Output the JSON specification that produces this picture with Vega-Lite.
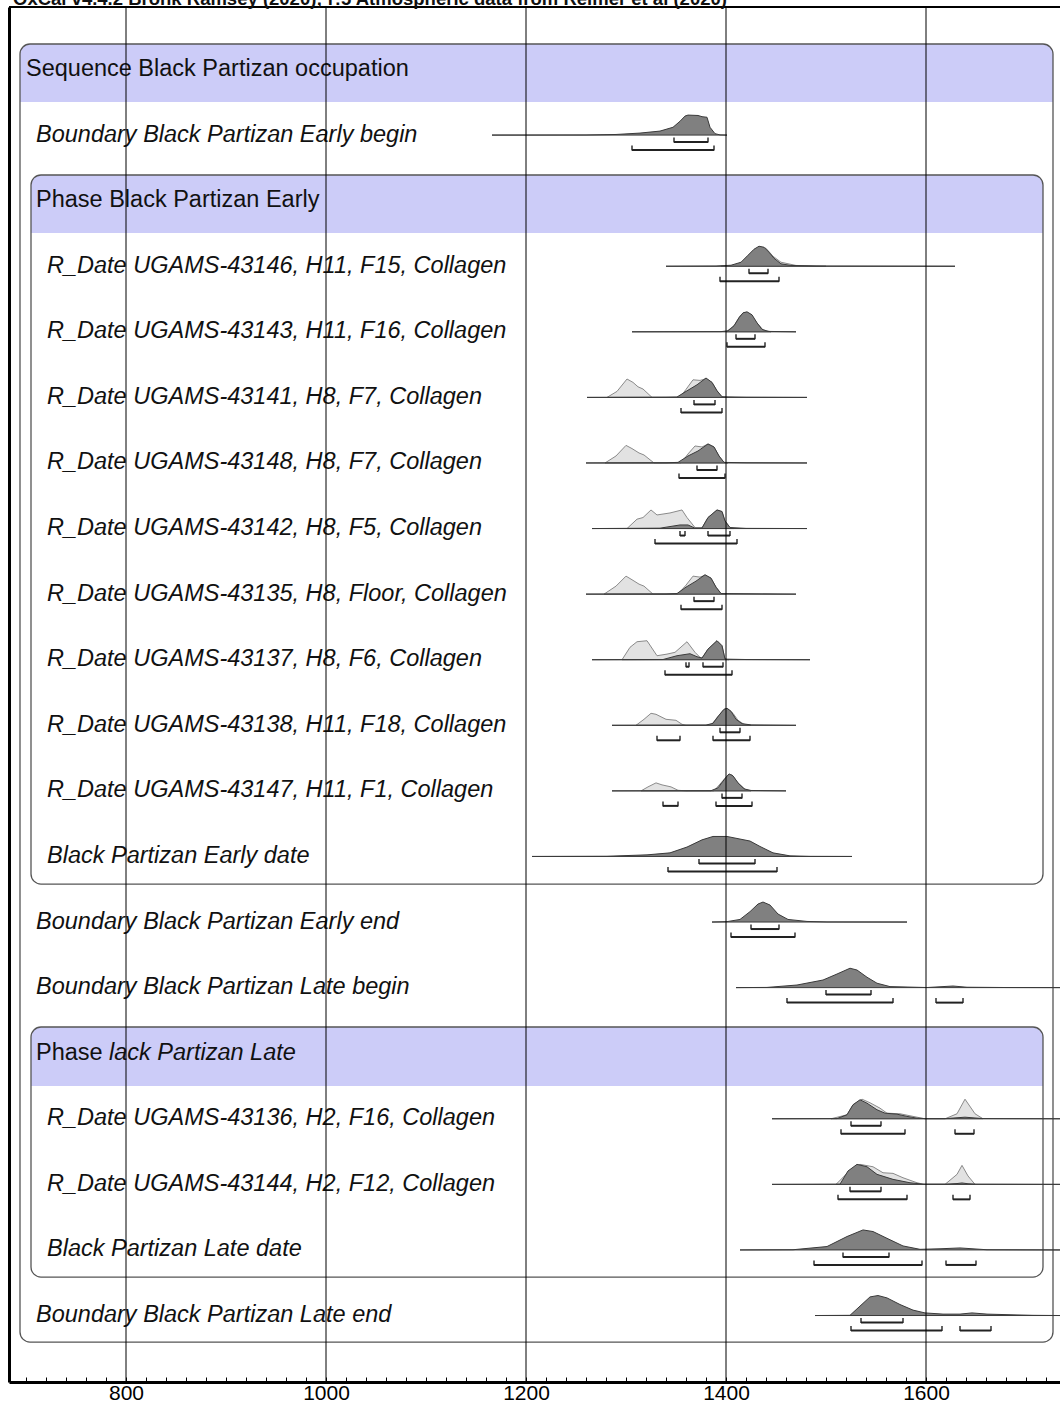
{
"$schema": "https://vega.github.io/schema/vega-lite/v6.json",
"width": 1051, "height": 1375,
"autosize": {"type": "none"},
"padding": {"left": 9, "top": 7, "right": 0, "bottom": 23},
"background": "white",
"view": {"stroke": null},
"config": {"font": "Liberation Sans"},
"datasets": {
"grid": [{"v":800},{"v":1000},{"v":1200},{"v":1400},{"v":1600}],
"labels": [
{"r":-1,"lvl":"title","label":"OxCal v4.4.2 Bronk Ramsey (2020); r:5 Atmospheric data from Reimer et al (2020)"},
{"r":0,"lvl":"seq","label":"Sequence Black Partizan occupation"},
{"r":1,"lvl":"b","label":"Boundary Black Partizan Early begin"},
{"r":2,"lvl":"ph","label":"Phase Black Partizan Early"},
{"r":3,"lvl":"d","label":"R_Date UGAMS-43146, H11, F15, Collagen"},
{"r":4,"lvl":"d","label":"R_Date UGAMS-43143, H11, F16, Collagen"},
{"r":5,"lvl":"d","label":"R_Date UGAMS-43141, H8, F7, Collagen"},
{"r":6,"lvl":"d","label":"R_Date UGAMS-43148, H8, F7, Collagen"},
{"r":7,"lvl":"d","label":"R_Date UGAMS-43142, H8, F5, Collagen"},
{"r":8,"lvl":"d","label":"R_Date UGAMS-43135, H8, Floor, Collagen"},
{"r":9,"lvl":"d","label":"R_Date UGAMS-43137, H8, F6, Collagen"},
{"r":10,"lvl":"d","label":"R_Date UGAMS-43138, H11, F18, Collagen"},
{"r":11,"lvl":"d","label":"R_Date UGAMS-43147, H11, F1, Collagen"},
{"r":12,"lvl":"d","label":"Black Partizan Early date"},
{"r":13,"lvl":"b","label":"Boundary Black Partizan Early end"},
{"r":14,"lvl":"b","label":"Boundary Black Partizan Late begin"},
{"r":15,"lvl":"ph","label":"Phase"},
{"r":15,"lvl":"phi","label":"lack Partizan Late"},
{"r":16,"lvl":"d","label":"R_Date UGAMS-43136, H2, F16, Collagen"},
{"r":17,"lvl":"d","label":"R_Date UGAMS-43144, H2, F12, Collagen"},
{"r":18,"lvl":"d","label":"Black Partizan Late date"},
{"r":19,"lvl":"b","label":"Boundary Black Partizan Late end"}
],
"ranges": [
{"r":1,"lev":68,"a":1348,"b":1382},{"r":1,"lev":95,"a":1306,"b":1388},
{"r":3,"lev":68,"a":1423,"b":1442},{"r":3,"lev":95,"a":1394,"b":1453},
{"r":4,"lev":68,"a":1410,"b":1429},{"r":4,"lev":95,"a":1401,"b":1439},
{"r":5,"lev":68,"a":1368,"b":1389},{"r":5,"lev":95,"a":1355,"b":1396},
{"r":6,"lev":68,"a":1371,"b":1391},{"r":6,"lev":95,"a":1353,"b":1399},
{"r":7,"lev":68,"a":1354,"b":1359},{"r":7,"lev":68,"a":1382,"b":1404},{"r":7,"lev":95,"a":1329,"b":1411},
{"r":8,"lev":68,"a":1368,"b":1388},{"r":8,"lev":95,"a":1355,"b":1396},
{"r":9,"lev":68,"a":1360,"b":1363},{"r":9,"lev":68,"a":1377,"b":1397},{"r":9,"lev":95,"a":1339,"b":1406},
{"r":10,"lev":68,"a":1394,"b":1414},{"r":10,"lev":95,"a":1331,"b":1354},{"r":10,"lev":95,"a":1387,"b":1424},
{"r":11,"lev":68,"a":1396,"b":1416},{"r":11,"lev":95,"a":1337,"b":1352},{"r":11,"lev":95,"a":1390,"b":1426},
{"r":12,"lev":68,"a":1373,"b":1429},{"r":12,"lev":95,"a":1342,"b":1451},
{"r":13,"lev":68,"a":1425,"b":1453},{"r":13,"lev":95,"a":1405,"b":1469},
{"r":14,"lev":68,"a":1500,"b":1545},{"r":14,"lev":95,"a":1461,"b":1567},{"r":14,"lev":95,"a":1610,"b":1637},
{"r":16,"lev":68,"a":1525,"b":1555},{"r":16,"lev":95,"a":1515,"b":1579},{"r":16,"lev":95,"a":1629,"b":1648},
{"r":17,"lev":68,"a":1524,"b":1555},{"r":17,"lev":95,"a":1512,"b":1581},{"r":17,"lev":95,"a":1627,"b":1644},
{"r":18,"lev":68,"a":1517,"b":1563},{"r":18,"lev":95,"a":1488,"b":1596},{"r":18,"lev":95,"a":1620,"b":1650},
{"r":19,"lev":68,"a":1535,"b":1577},{"r":19,"lev":95,"a":1525,"b":1616},{"r":19,"lev":95,"a":1634,"b":1665}
],
"dens": [
{"r":1,"t":"P","yr":1166,"p":0},{"r":1,"t":"P","yr":1260,"p":0.005},{"r":1,"t":"P","yr":1290,"p":0.03},{"r":1,"t":"P","yr":1314,"p":0.1},{"r":1,"t":"P","yr":1334,"p":0.2},{"r":1,"t":"P","yr":1347,"p":0.39},{"r":1,"t":"P","yr":1354,"p":0.69},{"r":1,"t":"P","yr":1359,"p":0.95},{"r":1,"t":"P","yr":1362,"p":1.0},{"r":1,"t":"P","yr":1372,"p":0.98},{"r":1,"t":"P","yr":1376,"p":0.92},{"r":1,"t":"P","yr":1381,"p":0.89},{"r":1,"t":"P","yr":1384,"p":0.39},{"r":1,"t":"P","yr":1389,"p":0.07},{"r":1,"t":"P","yr":1394,"p":0.01},{"r":1,"t":"P","yr":1401,"p":0},
{"r":3,"t":"L","yr":1395,"p":0},{"r":3,"t":"L","yr":1410,"p":0.05},{"r":3,"t":"L","yr":1420,"p":0.3},{"r":3,"t":"L","yr":1428,"p":0.7},{"r":3,"t":"L","yr":1435,"p":0.95},{"r":3,"t":"L","yr":1440,"p":0.9},{"r":3,"t":"L","yr":1447,"p":0.5},{"r":3,"t":"L","yr":1455,"p":0.2},{"r":3,"t":"L","yr":1470,"p":0.04},{"r":3,"t":"L","yr":1500,"p":0},
{"r":3,"t":"P","yr":1340,"p":0},{"r":3,"t":"P","yr":1390,"p":0.01},{"r":3,"t":"P","yr":1405,"p":0.05},{"r":3,"t":"P","yr":1415,"p":0.2},{"r":3,"t":"P","yr":1422,"p":0.55},{"r":3,"t":"P","yr":1428,"p":0.85},{"r":3,"t":"P","yr":1433,"p":1.0},{"r":3,"t":"P","yr":1438,"p":0.95},{"r":3,"t":"P","yr":1443,"p":0.7},{"r":3,"t":"P","yr":1448,"p":0.4},{"r":3,"t":"P","yr":1455,"p":0.12},{"r":3,"t":"P","yr":1465,"p":0.04},{"r":3,"t":"P","yr":1490,"p":0.01},{"r":3,"t":"P","yr":1629,"p":0},
{"r":4,"t":"L","yr":1400,"p":0},{"r":4,"t":"L","yr":1408,"p":0.3},{"r":4,"t":"L","yr":1414,"p":0.8},{"r":4,"t":"L","yr":1419,"p":0.97},{"r":4,"t":"L","yr":1424,"p":0.9},{"r":4,"t":"L","yr":1430,"p":0.5},{"r":4,"t":"L","yr":1437,"p":0.1},{"r":4,"t":"L","yr":1445,"p":0},
{"r":4,"t":"P","yr":1306,"p":0},{"r":4,"t":"P","yr":1395,"p":0.01},{"r":4,"t":"P","yr":1402,"p":0.05},{"r":4,"t":"P","yr":1408,"p":0.3},{"r":4,"t":"P","yr":1413,"p":0.7},{"r":4,"t":"P","yr":1417,"p":0.95},{"r":4,"t":"P","yr":1421,"p":1.0},{"r":4,"t":"P","yr":1426,"p":0.85},{"r":4,"t":"P","yr":1431,"p":0.45},{"r":4,"t":"P","yr":1436,"p":0.12},{"r":4,"t":"P","yr":1442,"p":0.02},{"r":4,"t":"P","yr":1470,"p":0},
{"r":5,"t":"L","yr":1281,"p":0},{"r":5,"t":"L","yr":1291,"p":0.3},{"r":5,"t":"L","yr":1301,"p":0.92},{"r":5,"t":"L","yr":1307,"p":0.75},{"r":5,"t":"L","yr":1312,"p":0.53},{"r":5,"t":"L","yr":1317,"p":0.42},{"r":5,"t":"L","yr":1326,"p":0},{"r":5,"t":"L","yr":1354,"p":0},{"r":5,"t":"L","yr":1360,"p":0.4},{"r":5,"t":"L","yr":1367,"p":0.88},{"r":5,"t":"L","yr":1374,"p":0.85},{"r":5,"t":"L","yr":1380,"p":0.93},{"r":5,"t":"L","yr":1386,"p":0.75},{"r":5,"t":"L","yr":1391,"p":0.33},{"r":5,"t":"L","yr":1396,"p":0.03},{"r":5,"t":"L","yr":1400,"p":0},
{"r":5,"t":"P","yr":1261,"p":0},{"r":5,"t":"P","yr":1340,"p":0.01},{"r":5,"t":"P","yr":1351,"p":0.02},{"r":5,"t":"P","yr":1361,"p":0.33},{"r":5,"t":"P","yr":1371,"p":0.63},{"r":5,"t":"P","yr":1380,"p":0.97},{"r":5,"t":"P","yr":1386,"p":0.75},{"r":5,"t":"P","yr":1391,"p":0.33},{"r":5,"t":"P","yr":1396,"p":0.03},{"r":5,"t":"P","yr":1420,"p":0.01},{"r":5,"t":"P","yr":1481,"p":0},
{"r":6,"t":"L","yr":1279,"p":0},{"r":6,"t":"L","yr":1290,"p":0.35},{"r":6,"t":"L","yr":1300,"p":0.88},{"r":6,"t":"L","yr":1306,"p":0.72},{"r":6,"t":"L","yr":1313,"p":0.5},{"r":6,"t":"L","yr":1318,"p":0.4},{"r":6,"t":"L","yr":1328,"p":0},{"r":6,"t":"L","yr":1355,"p":0},{"r":6,"t":"L","yr":1362,"p":0.45},{"r":6,"t":"L","yr":1369,"p":0.85},{"r":6,"t":"L","yr":1376,"p":0.8},{"r":6,"t":"L","yr":1382,"p":0.95},{"r":6,"t":"L","yr":1388,"p":0.8},{"r":6,"t":"L","yr":1393,"p":0.35},{"r":6,"t":"L","yr":1398,"p":0.03},{"r":6,"t":"L","yr":1402,"p":0},
{"r":6,"t":"P","yr":1260,"p":0},{"r":6,"t":"P","yr":1340,"p":0.01},{"r":6,"t":"P","yr":1352,"p":0.03},{"r":6,"t":"P","yr":1362,"p":0.35},{"r":6,"t":"P","yr":1372,"p":0.6},{"r":6,"t":"P","yr":1382,"p":0.95},{"r":6,"t":"P","yr":1388,"p":0.8},{"r":6,"t":"P","yr":1393,"p":0.35},{"r":6,"t":"P","yr":1398,"p":0.03},{"r":6,"t":"P","yr":1420,"p":0.01},{"r":6,"t":"P","yr":1481,"p":0},
{"r":7,"t":"L","yr":1301,"p":0},{"r":7,"t":"L","yr":1311,"p":0.47},{"r":7,"t":"L","yr":1317,"p":0.55},{"r":7,"t":"L","yr":1325,"p":0.93},{"r":7,"t":"L","yr":1331,"p":0.68},{"r":7,"t":"L","yr":1344,"p":0.78},{"r":7,"t":"L","yr":1356,"p":0.93},{"r":7,"t":"L","yr":1361,"p":0.55},{"r":7,"t":"L","yr":1369,"p":0.05},{"r":7,"t":"L","yr":1376,"p":0.03},{"r":7,"t":"L","yr":1382,"p":0.55},{"r":7,"t":"L","yr":1391,"p":0.93},{"r":7,"t":"L","yr":1396,"p":0.85},{"r":7,"t":"L","yr":1399,"p":0.38},{"r":7,"t":"L","yr":1404,"p":0.05},{"r":7,"t":"L","yr":1408,"p":0},
{"r":7,"t":"P","yr":1266,"p":0},{"r":7,"t":"P","yr":1334,"p":0.02},{"r":7,"t":"P","yr":1354,"p":0.18},{"r":7,"t":"P","yr":1362,"p":0.18},{"r":7,"t":"P","yr":1369,"p":0.02},{"r":7,"t":"P","yr":1376,"p":0.03},{"r":7,"t":"P","yr":1382,"p":0.55},{"r":7,"t":"P","yr":1391,"p":0.93},{"r":7,"t":"P","yr":1396,"p":0.85},{"r":7,"t":"P","yr":1399,"p":0.38},{"r":7,"t":"P","yr":1404,"p":0.05},{"r":7,"t":"P","yr":1420,"p":0.01},{"r":7,"t":"P","yr":1481,"p":0},
{"r":8,"t":"L","yr":1278,"p":0},{"r":8,"t":"L","yr":1290,"p":0.4},{"r":8,"t":"L","yr":1300,"p":0.9},{"r":8,"t":"L","yr":1306,"p":0.72},{"r":8,"t":"L","yr":1313,"p":0.5},{"r":8,"t":"L","yr":1318,"p":0.4},{"r":8,"t":"L","yr":1327,"p":0},{"r":8,"t":"L","yr":1352,"p":0},{"r":8,"t":"L","yr":1360,"p":0.45},{"r":8,"t":"L","yr":1367,"p":0.9},{"r":8,"t":"L","yr":1374,"p":0.85},{"r":8,"t":"L","yr":1379,"p":0.95},{"r":8,"t":"L","yr":1385,"p":0.8},{"r":8,"t":"L","yr":1390,"p":0.35},{"r":8,"t":"L","yr":1395,"p":0.03},{"r":8,"t":"L","yr":1400,"p":0},
{"r":8,"t":"P","yr":1260,"p":0},{"r":8,"t":"P","yr":1340,"p":0.01},{"r":8,"t":"P","yr":1351,"p":0.03},{"r":8,"t":"P","yr":1360,"p":0.35},{"r":8,"t":"P","yr":1370,"p":0.65},{"r":8,"t":"P","yr":1379,"p":0.97},{"r":8,"t":"P","yr":1385,"p":0.8},{"r":8,"t":"P","yr":1390,"p":0.35},{"r":8,"t":"P","yr":1395,"p":0.03},{"r":8,"t":"P","yr":1470,"p":0},
{"r":9,"t":"L","yr":1296,"p":0},{"r":9,"t":"L","yr":1304,"p":0.62},{"r":9,"t":"L","yr":1311,"p":0.9},{"r":9,"t":"L","yr":1321,"p":0.95},{"r":9,"t":"L","yr":1331,"p":0.2},{"r":9,"t":"L","yr":1341,"p":0.28},{"r":9,"t":"L","yr":1349,"p":0.37},{"r":9,"t":"L","yr":1361,"p":0.9},{"r":9,"t":"L","yr":1369,"p":0.37},{"r":9,"t":"L","yr":1374,"p":0.12},{"r":9,"t":"L","yr":1376,"p":0.08},{"r":9,"t":"L","yr":1382,"p":0.53},{"r":9,"t":"L","yr":1391,"p":0.95},{"r":9,"t":"L","yr":1396,"p":0.7},{"r":9,"t":"L","yr":1399,"p":0.03},{"r":9,"t":"L","yr":1403,"p":0},
{"r":9,"t":"P","yr":1266,"p":0},{"r":9,"t":"P","yr":1337,"p":0.01},{"r":9,"t":"P","yr":1351,"p":0.2},{"r":9,"t":"P","yr":1364,"p":0.3},{"r":9,"t":"P","yr":1371,"p":0.15},{"r":9,"t":"P","yr":1376,"p":0.08},{"r":9,"t":"P","yr":1382,"p":0.53},{"r":9,"t":"P","yr":1391,"p":0.95},{"r":9,"t":"P","yr":1396,"p":0.7},{"r":9,"t":"P","yr":1399,"p":0.03},{"r":9,"t":"P","yr":1420,"p":0.01},{"r":9,"t":"P","yr":1484,"p":0},
{"r":10,"t":"L","yr":1310,"p":0},{"r":10,"t":"L","yr":1318,"p":0.3},{"r":10,"t":"L","yr":1325,"p":0.6},{"r":10,"t":"L","yr":1330,"p":0.55},{"r":10,"t":"L","yr":1340,"p":0.3},{"r":10,"t":"L","yr":1350,"p":0.25},{"r":10,"t":"L","yr":1356,"p":0.05},{"r":10,"t":"L","yr":1360,"p":0},{"r":10,"t":"L","yr":1385,"p":0},{"r":10,"t":"L","yr":1392,"p":0.45},{"r":10,"t":"L","yr":1398,"p":0.8},{"r":10,"t":"L","yr":1402,"p":0.82},{"r":10,"t":"L","yr":1407,"p":0.6},{"r":10,"t":"L","yr":1412,"p":0.25},{"r":10,"t":"L","yr":1418,"p":0.05},{"r":10,"t":"L","yr":1425,"p":0},
{"r":10,"t":"P","yr":1286,"p":0},{"r":10,"t":"P","yr":1380,"p":0.01},{"r":10,"t":"P","yr":1387,"p":0.1},{"r":10,"t":"P","yr":1393,"p":0.5},{"r":10,"t":"P","yr":1398,"p":0.8},{"r":10,"t":"P","yr":1401,"p":0.85},{"r":10,"t":"P","yr":1405,"p":0.7},{"r":10,"t":"P","yr":1410,"p":0.3},{"r":10,"t":"P","yr":1416,"p":0.08},{"r":10,"t":"P","yr":1425,"p":0.02},{"r":10,"t":"P","yr":1470,"p":0},
{"r":11,"t":"L","yr":1315,"p":0},{"r":11,"t":"L","yr":1322,"p":0.2},{"r":11,"t":"L","yr":1330,"p":0.4},{"r":11,"t":"L","yr":1336,"p":0.3},{"r":11,"t":"L","yr":1345,"p":0.2},{"r":11,"t":"L","yr":1352,"p":0.03},{"r":11,"t":"L","yr":1360,"p":0},{"r":11,"t":"L","yr":1388,"p":0},{"r":11,"t":"L","yr":1395,"p":0.4},{"r":11,"t":"L","yr":1402,"p":0.8},{"r":11,"t":"L","yr":1406,"p":0.8},{"r":11,"t":"L","yr":1412,"p":0.4},{"r":11,"t":"L","yr":1420,"p":0.05},{"r":11,"t":"L","yr":1425,"p":0},
{"r":11,"t":"P","yr":1286,"p":0},{"r":11,"t":"P","yr":1385,"p":0.01},{"r":11,"t":"P","yr":1392,"p":0.15},{"r":11,"t":"P","yr":1398,"p":0.55},{"r":11,"t":"P","yr":1403,"p":0.85},{"r":11,"t":"P","yr":1407,"p":0.75},{"r":11,"t":"P","yr":1412,"p":0.4},{"r":11,"t":"P","yr":1418,"p":0.1},{"r":11,"t":"P","yr":1425,"p":0.02},{"r":11,"t":"P","yr":1460,"p":0},
{"r":12,"t":"P","yr":1206,"p":0},{"r":12,"t":"P","yr":1281,"p":0.01},{"r":12,"t":"P","yr":1321,"p":0.08},{"r":12,"t":"P","yr":1344,"p":0.18},{"r":12,"t":"P","yr":1361,"p":0.47},{"r":12,"t":"P","yr":1376,"p":0.83},{"r":12,"t":"P","yr":1387,"p":1.0},{"r":12,"t":"P","yr":1401,"p":1.0},{"r":12,"t":"P","yr":1424,"p":0.77},{"r":12,"t":"P","yr":1434,"p":0.5},{"r":12,"t":"P","yr":1447,"p":0.18},{"r":12,"t":"P","yr":1464,"p":0.03},{"r":12,"t":"P","yr":1484,"p":0.005},{"r":12,"t":"P","yr":1526,"p":0},
{"r":13,"t":"P","yr":1386,"p":0},{"r":13,"t":"P","yr":1401,"p":0.02},{"r":13,"t":"P","yr":1414,"p":0.13},{"r":13,"t":"P","yr":1424,"p":0.52},{"r":13,"t":"P","yr":1432,"p":0.9},{"r":13,"t":"P","yr":1437,"p":1.0},{"r":13,"t":"P","yr":1444,"p":0.85},{"r":13,"t":"P","yr":1452,"p":0.4},{"r":13,"t":"P","yr":1462,"p":0.13},{"r":13,"t":"P","yr":1481,"p":0.03},{"r":13,"t":"P","yr":1501,"p":0.005},{"r":13,"t":"P","yr":1581,"p":0},
{"r":14,"t":"P","yr":1410,"p":0},{"r":14,"t":"P","yr":1441,"p":0.01},{"r":14,"t":"P","yr":1471,"p":0.13},{"r":14,"t":"P","yr":1497,"p":0.38},{"r":14,"t":"P","yr":1511,"p":0.68},{"r":14,"t":"P","yr":1524,"p":0.97},{"r":14,"t":"P","yr":1531,"p":0.88},{"r":14,"t":"P","yr":1541,"p":0.52},{"r":14,"t":"P","yr":1551,"p":0.22},{"r":14,"t":"P","yr":1564,"p":0.05},{"r":14,"t":"P","yr":1601,"p":0.005},{"r":14,"t":"P","yr":1627,"p":0.08},{"r":14,"t":"P","yr":1641,"p":0.02},{"r":14,"t":"P","yr":1680,"p":0.005},{"r":14,"t":"P","yr":1734,"p":0},
{"r":16,"t":"L","yr":1505,"p":0},{"r":16,"t":"L","yr":1521,"p":0.2},{"r":16,"t":"L","yr":1527,"p":0.7},{"r":16,"t":"L","yr":1536,"p":0.98},{"r":16,"t":"L","yr":1544,"p":0.8},{"r":16,"t":"L","yr":1554,"p":0.53},{"r":16,"t":"L","yr":1561,"p":0.28},{"r":16,"t":"L","yr":1574,"p":0.25},{"r":16,"t":"L","yr":1587,"p":0.12},{"r":16,"t":"L","yr":1599,"p":0},{"r":16,"t":"L","yr":1619,"p":0},{"r":16,"t":"L","yr":1631,"p":0.25},{"r":16,"t":"L","yr":1639,"p":0.98},{"r":16,"t":"L","yr":1649,"p":0.25},{"r":16,"t":"L","yr":1657,"p":0},
{"r":16,"t":"P","yr":1446,"p":0},{"r":16,"t":"P","yr":1511,"p":0.01},{"r":16,"t":"P","yr":1521,"p":0.2},{"r":16,"t":"P","yr":1527,"p":0.7},{"r":16,"t":"P","yr":1534,"p":0.95},{"r":16,"t":"P","yr":1541,"p":0.78},{"r":16,"t":"P","yr":1551,"p":0.45},{"r":16,"t":"P","yr":1559,"p":0.28},{"r":16,"t":"P","yr":1571,"p":0.23},{"r":16,"t":"P","yr":1581,"p":0.12},{"r":16,"t":"P","yr":1591,"p":0.03},{"r":16,"t":"P","yr":1599,"p":0.01},{"r":16,"t":"P","yr":1620,"p":0.01},{"r":16,"t":"P","yr":1631,"p":0.05},{"r":16,"t":"P","yr":1639,"p":0.08},{"r":16,"t":"P","yr":1649,"p":0.04},{"r":16,"t":"P","yr":1657,"p":0.01},{"r":16,"t":"P","yr":1734,"p":0},
{"r":17,"t":"L","yr":1510,"p":0},{"r":17,"t":"L","yr":1522,"p":0.6},{"r":17,"t":"L","yr":1534,"p":1.0},{"r":17,"t":"L","yr":1547,"p":0.88},{"r":17,"t":"L","yr":1557,"p":0.58},{"r":17,"t":"L","yr":1567,"p":0.55},{"r":17,"t":"L","yr":1577,"p":0.33},{"r":17,"t":"L","yr":1591,"p":0.08},{"r":17,"t":"L","yr":1598,"p":0},{"r":17,"t":"L","yr":1619,"p":0},{"r":17,"t":"L","yr":1631,"p":0.5},{"r":17,"t":"L","yr":1636,"p":0.95},{"r":17,"t":"L","yr":1642,"p":0.42},{"r":17,"t":"L","yr":1649,"p":0},
{"r":17,"t":"P","yr":1446,"p":0},{"r":17,"t":"P","yr":1514,"p":0.01},{"r":17,"t":"P","yr":1522,"p":0.67},{"r":17,"t":"P","yr":1531,"p":1.0},{"r":17,"t":"P","yr":1541,"p":0.88},{"r":17,"t":"P","yr":1551,"p":0.5},{"r":17,"t":"P","yr":1567,"p":0.25},{"r":17,"t":"P","yr":1584,"p":0.08},{"r":17,"t":"P","yr":1597,"p":0.01},{"r":17,"t":"P","yr":1620,"p":0.01},{"r":17,"t":"P","yr":1631,"p":0.04},{"r":17,"t":"P","yr":1636,"p":0.07},{"r":17,"t":"P","yr":1642,"p":0.03},{"r":17,"t":"P","yr":1650,"p":0.01},{"r":17,"t":"P","yr":1734,"p":0},
{"r":18,"t":"P","yr":1414,"p":0},{"r":18,"t":"P","yr":1467,"p":0.01},{"r":18,"t":"P","yr":1501,"p":0.17},{"r":18,"t":"P","yr":1521,"p":0.67},{"r":18,"t":"P","yr":1537,"p":1.0},{"r":18,"t":"P","yr":1547,"p":0.92},{"r":18,"t":"P","yr":1561,"p":0.58},{"r":18,"t":"P","yr":1577,"p":0.2},{"r":18,"t":"P","yr":1594,"p":0.03},{"r":18,"t":"P","yr":1615,"p":0.06},{"r":18,"t":"P","yr":1634,"p":0.1},{"r":18,"t":"P","yr":1661,"p":0.01},{"r":18,"t":"P","yr":1734,"p":0},
{"r":19,"t":"P","yr":1489,"p":0},{"r":19,"t":"P","yr":1524,"p":0.01},{"r":19,"t":"P","yr":1534,"p":0.47},{"r":19,"t":"P","yr":1544,"p":0.93},{"r":19,"t":"P","yr":1552,"p":1.0},{"r":19,"t":"P","yr":1561,"p":0.88},{"r":19,"t":"P","yr":1574,"p":0.55},{"r":19,"t":"P","yr":1587,"p":0.27},{"r":19,"t":"P","yr":1599,"p":0.13},{"r":19,"t":"P","yr":1617,"p":0.07},{"r":19,"t":"P","yr":1634,"p":0.07},{"r":19,"t":"P","yr":1646,"p":0.13},{"r":19,"t":"P","yr":1661,"p":0.07},{"r":19,"t":"P","yr":1691,"p":0.03},{"r":19,"t":"P","yr":1707,"p":0.01},{"r":19,"t":"P","yr":1734,"p":0}
]
},
"resolve": {"scale": {"y": "independent"}, "axis": {"x": "independent"}},
"layer": [
{
"layer": [
{"data": {"values": [{}]}, "mark": {"type": "rect", "fill": "#ccccf8", "cornerRadiusTopLeft": 10, "cornerRadiusTopRight": 10},
 "encoding": {
  "x": {"datum": 694, "type": "quantitative", "scale": {"domain": [683, 1734], "nice": false, "zero": false}, "axis": null},
  "x2": {"datum": 1727},
  "y": {"datum": -0.381, "type": "quantitative", "scale": {"domain": [-0.9454, 20.021], "reverse": true, "nice": false, "zero": false},
   "axis": {"orient": "left", "domain": true, "domainColor": "black", "domainWidth": 3, "ticks": false, "labels": false, "grid": false, "title": null}},
  "y2": {"datum": 0.503}}},
{"data": {"values": [{}]}, "mark": {"type": "rect", "fill": "#ccccf8", "cornerRadiusTopLeft": 10, "cornerRadiusTopRight": 10},
 "encoding": {"x": {"datum": 705, "type": "quantitative", "scale": {"domain": [683, 1734], "nice": false, "zero": false}, "axis": null}, "x2": {"datum": 1717},
  "y": {"datum": 1.616, "type": "quantitative", "scale": {"domain": [-0.9454, 20.021], "reverse": true, "nice": false, "zero": false}}, "y2": {"datum": 2.501}}},
{"data": {"values": [{}]}, "mark": {"type": "rect", "fill": "#ccccf8", "cornerRadiusTopLeft": 10, "cornerRadiusTopRight": 10},
 "encoding": {"x": {"datum": 705, "type": "quantitative", "scale": {"domain": [683, 1734], "nice": false, "zero": false}, "axis": null}, "x2": {"datum": 1717},
  "y": {"datum": 14.608, "type": "quantitative", "scale": {"domain": [-0.9454, 20.021], "reverse": true, "nice": false, "zero": false}}, "y2": {"datum": 15.508}}},
{"data": {"values": [{}]}, "mark": {"type": "rect", "filled": false, "stroke": "#555", "strokeWidth": 1.3, "cornerRadius": 10},
 "encoding": {"x": {"datum": 694, "type": "quantitative", "scale": {"domain": [683, 1734], "nice": false, "zero": false}, "axis": null}, "x2": {"datum": 1727},
  "y": {"datum": -0.381, "type": "quantitative", "scale": {"domain": [-0.9454, 20.021], "reverse": true, "nice": false, "zero": false}}, "y2": {"datum": 19.412}}},
{"data": {"values": [{}]}, "mark": {"type": "rect", "filled": false, "stroke": "#555", "strokeWidth": 1.3, "cornerRadius": 10},
 "encoding": {"x": {"datum": 705, "type": "quantitative", "scale": {"domain": [683, 1734], "nice": false, "zero": false}, "axis": null}, "x2": {"datum": 1717},
  "y": {"datum": 1.616, "type": "quantitative", "scale": {"domain": [-0.9454, 20.021], "reverse": true, "nice": false, "zero": false}}, "y2": {"datum": 12.428}}},
{"data": {"values": [{}]}, "mark": {"type": "rect", "filled": false, "stroke": "#555", "strokeWidth": 1.3, "cornerRadius": 10},
 "encoding": {"x": {"datum": 705, "type": "quantitative", "scale": {"domain": [683, 1734], "nice": false, "zero": false}, "axis": null}, "x2": {"datum": 1717},
  "y": {"datum": 14.608, "type": "quantitative", "scale": {"domain": [-0.9454, 20.021], "reverse": true, "nice": false, "zero": false}}, "y2": {"datum": 18.421}}},
{"data": {"values": [{}]}, "mark": {"type": "rule", "stroke": "black", "strokeWidth": 2},
 "encoding": {"x": {"datum": 683, "type": "quantitative", "scale": {"domain": [683, 1734], "nice": false, "zero": false}, "axis": null}, "x2": {"datum": 1734},
  "y": {"datum": -0.9454, "type": "quantitative", "scale": {"domain": [-0.9454, 20.021], "reverse": true, "nice": false, "zero": false}}}},
{"data": {"name": "labels"}, "transform": [{"filter": "datum.lvl == 'title'"}], "mark": {"type": "text", "align": "left", "baseline": "alphabetic", "fontSize": 18.5, "fontWeight": "bold", "font": "Liberation Sans", "color": "#111"},
 "encoding": {"x": {"datum": 687, "type": "quantitative", "scale": {"domain": [683, 1734], "nice": false, "zero": false}, "axis": null},
  "y": {"datum": -0.975, "type": "quantitative", "scale": {"domain": [-0.9454, 20.021], "reverse": true, "nice": false, "zero": false}}, "text": {"field": "label"}}},
{"data": {"name": "labels"}, "transform": [{"filter": "datum.lvl == 'seq'"}], "mark": {"type": "text", "align": "left", "baseline": "middle", "fontSize": 23.5, "font": "Liberation Sans", "color": "#111"},
 "encoding": {"x": {"datum": 700, "type": "quantitative", "scale": {"domain": [683, 1734], "nice": false, "zero": false}, "axis": null},
  "y": {"field": "r", "type": "quantitative", "scale": {"domain": [-0.9454, 20.021], "reverse": true, "nice": false, "zero": false}}, "text": {"field": "label"}}},
{"data": {"name": "labels"}, "transform": [{"filter": "datum.lvl == 'ph'"}], "mark": {"type": "text", "align": "left", "baseline": "middle", "fontSize": 23.5, "font": "Liberation Sans", "color": "#111"},
 "encoding": {"x": {"datum": 710, "type": "quantitative", "scale": {"domain": [683, 1734], "nice": false, "zero": false}, "axis": null},
  "y": {"field": "r", "type": "quantitative", "scale": {"domain": [-0.9454, 20.021], "reverse": true, "nice": false, "zero": false}}, "text": {"field": "label"}}},
{"data": {"name": "labels"}, "transform": [{"filter": "datum.lvl == 'phi'"}], "mark": {"type": "text", "align": "left", "baseline": "middle", "fontSize": 23.5, "font": "Liberation Sans", "fontStyle": "italic", "color": "#111"},
 "encoding": {"x": {"datum": 783, "type": "quantitative", "scale": {"domain": [683, 1734], "nice": false, "zero": false}, "axis": null},
  "y": {"field": "r", "type": "quantitative", "scale": {"domain": [-0.9454, 20.021], "reverse": true, "nice": false, "zero": false}}, "text": {"field": "label"}}},
{"data": {"name": "labels"}, "transform": [{"filter": "datum.lvl == 'b'"}], "mark": {"type": "text", "align": "left", "baseline": "middle", "fontSize": 23.5, "font": "Liberation Sans", "fontStyle": "italic", "color": "#111"},
 "encoding": {"x": {"datum": 710, "type": "quantitative", "scale": {"domain": [683, 1734], "nice": false, "zero": false}, "axis": null},
  "y": {"field": "r", "type": "quantitative", "scale": {"domain": [-0.9454, 20.021], "reverse": true, "nice": false, "zero": false}}, "text": {"field": "label"}}},
{"data": {"name": "labels"}, "transform": [{"filter": "datum.lvl == 'd'"}], "mark": {"type": "text", "align": "left", "baseline": "middle", "fontSize": 23.5, "font": "Liberation Sans", "fontStyle": "italic", "color": "#111"},
 "encoding": {"x": {"datum": 721, "type": "quantitative", "scale": {"domain": [683, 1734], "nice": false, "zero": false}, "axis": null},
  "y": {"field": "r", "type": "quantitative", "scale": {"domain": [-0.9454, 20.021], "reverse": true, "nice": false, "zero": false}}, "text": {"field": "label"}}}
]
},
{"data": {"name": "dens"}, "transform": [{"filter": "datum.r == 1"}], "mark": {"type": "area", "strokeWidth": 1},
 "encoding": {"x": {"field": "yr", "type": "quantitative", "scale": {"domain": [683, 1734], "nice": false, "zero": false}, "axis": null},
  "y": {"field": "p", "type": "quantitative", "stack": null, "scale": {"domain": [0, 1], "range": [128.08, 108.08]}, "axis": null},
  "fill": {"field": "t", "type": "nominal", "scale": {"domain": ["L", "P"], "range": ["#e2e2e2", "#808080"]}, "legend": null},
  "stroke": {"field": "t", "type": "nominal", "scale": {"domain": ["L", "P"], "range": ["#8a8a8a", "#3a3a3a"]}, "legend": null}}},
{"data": {"name": "dens"}, "transform": [{"filter": "datum.r == 3"}], "mark": {"type": "area", "strokeWidth": 1},
 "encoding": {"x": {"field": "yr", "type": "quantitative", "scale": {"domain": [683, 1734], "nice": false, "zero": false}, "axis": null},
  "y": {"field": "p", "type": "quantitative", "stack": null, "scale": {"domain": [0, 1], "range": [259.24, 239.24]}, "axis": null},
  "fill": {"field": "t", "type": "nominal", "scale": {"domain": ["L", "P"], "range": ["#e2e2e2", "#808080"]}, "legend": null},
  "stroke": {"field": "t", "type": "nominal", "scale": {"domain": ["L", "P"], "range": ["#8a8a8a", "#3a3a3a"]}, "legend": null}}},
{"data": {"name": "dens"}, "transform": [{"filter": "datum.r == 4"}], "mark": {"type": "area", "strokeWidth": 1},
 "encoding": {"x": {"field": "yr", "type": "quantitative", "scale": {"domain": [683, 1734], "nice": false, "zero": false}, "axis": null},
  "y": {"field": "p", "type": "quantitative", "stack": null, "scale": {"domain": [0, 1], "range": [324.82, 304.82]}, "axis": null},
  "fill": {"field": "t", "type": "nominal", "scale": {"domain": ["L", "P"], "range": ["#e2e2e2", "#808080"]}, "legend": null},
  "stroke": {"field": "t", "type": "nominal", "scale": {"domain": ["L", "P"], "range": ["#8a8a8a", "#3a3a3a"]}, "legend": null}}},
{"data": {"name": "dens"}, "transform": [{"filter": "datum.r == 5"}], "mark": {"type": "area", "strokeWidth": 1},
 "encoding": {"x": {"field": "yr", "type": "quantitative", "scale": {"domain": [683, 1734], "nice": false, "zero": false}, "axis": null},
  "y": {"field": "p", "type": "quantitative", "stack": null, "scale": {"domain": [0, 1], "range": [390.4, 370.4]}, "axis": null},
  "fill": {"field": "t", "type": "nominal", "scale": {"domain": ["L", "P"], "range": ["#e2e2e2", "#808080"]}, "legend": null},
  "stroke": {"field": "t", "type": "nominal", "scale": {"domain": ["L", "P"], "range": ["#8a8a8a", "#3a3a3a"]}, "legend": null}}},
{"data": {"name": "dens"}, "transform": [{"filter": "datum.r == 6"}], "mark": {"type": "area", "strokeWidth": 1},
 "encoding": {"x": {"field": "yr", "type": "quantitative", "scale": {"domain": [683, 1734], "nice": false, "zero": false}, "axis": null},
  "y": {"field": "p", "type": "quantitative", "stack": null, "scale": {"domain": [0, 1], "range": [455.98, 435.98]}, "axis": null},
  "fill": {"field": "t", "type": "nominal", "scale": {"domain": ["L", "P"], "range": ["#e2e2e2", "#808080"]}, "legend": null},
  "stroke": {"field": "t", "type": "nominal", "scale": {"domain": ["L", "P"], "range": ["#8a8a8a", "#3a3a3a"]}, "legend": null}}},
{"data": {"name": "dens"}, "transform": [{"filter": "datum.r == 7"}], "mark": {"type": "area", "strokeWidth": 1},
 "encoding": {"x": {"field": "yr", "type": "quantitative", "scale": {"domain": [683, 1734], "nice": false, "zero": false}, "axis": null},
  "y": {"field": "p", "type": "quantitative", "stack": null, "scale": {"domain": [0, 1], "range": [521.56, 501.56]}, "axis": null},
  "fill": {"field": "t", "type": "nominal", "scale": {"domain": ["L", "P"], "range": ["#e2e2e2", "#808080"]}, "legend": null},
  "stroke": {"field": "t", "type": "nominal", "scale": {"domain": ["L", "P"], "range": ["#8a8a8a", "#3a3a3a"]}, "legend": null}}},
{"data": {"name": "dens"}, "transform": [{"filter": "datum.r == 8"}], "mark": {"type": "area", "strokeWidth": 1},
 "encoding": {"x": {"field": "yr", "type": "quantitative", "scale": {"domain": [683, 1734], "nice": false, "zero": false}, "axis": null},
  "y": {"field": "p", "type": "quantitative", "stack": null, "scale": {"domain": [0, 1], "range": [587.14, 567.14]}, "axis": null},
  "fill": {"field": "t", "type": "nominal", "scale": {"domain": ["L", "P"], "range": ["#e2e2e2", "#808080"]}, "legend": null},
  "stroke": {"field": "t", "type": "nominal", "scale": {"domain": ["L", "P"], "range": ["#8a8a8a", "#3a3a3a"]}, "legend": null}}},
{"data": {"name": "dens"}, "transform": [{"filter": "datum.r == 9"}], "mark": {"type": "area", "strokeWidth": 1},
 "encoding": {"x": {"field": "yr", "type": "quantitative", "scale": {"domain": [683, 1734], "nice": false, "zero": false}, "axis": null},
  "y": {"field": "p", "type": "quantitative", "stack": null, "scale": {"domain": [0, 1], "range": [652.72, 632.72]}, "axis": null},
  "fill": {"field": "t", "type": "nominal", "scale": {"domain": ["L", "P"], "range": ["#e2e2e2", "#808080"]}, "legend": null},
  "stroke": {"field": "t", "type": "nominal", "scale": {"domain": ["L", "P"], "range": ["#8a8a8a", "#3a3a3a"]}, "legend": null}}},
{"data": {"name": "dens"}, "transform": [{"filter": "datum.r == 10"}], "mark": {"type": "area", "strokeWidth": 1},
 "encoding": {"x": {"field": "yr", "type": "quantitative", "scale": {"domain": [683, 1734], "nice": false, "zero": false}, "axis": null},
  "y": {"field": "p", "type": "quantitative", "stack": null, "scale": {"domain": [0, 1], "range": [718.3, 698.3]}, "axis": null},
  "fill": {"field": "t", "type": "nominal", "scale": {"domain": ["L", "P"], "range": ["#e2e2e2", "#808080"]}, "legend": null},
  "stroke": {"field": "t", "type": "nominal", "scale": {"domain": ["L", "P"], "range": ["#8a8a8a", "#3a3a3a"]}, "legend": null}}},
{"data": {"name": "dens"}, "transform": [{"filter": "datum.r == 11"}], "mark": {"type": "area", "strokeWidth": 1},
 "encoding": {"x": {"field": "yr", "type": "quantitative", "scale": {"domain": [683, 1734], "nice": false, "zero": false}, "axis": null},
  "y": {"field": "p", "type": "quantitative", "stack": null, "scale": {"domain": [0, 1], "range": [783.88, 763.88]}, "axis": null},
  "fill": {"field": "t", "type": "nominal", "scale": {"domain": ["L", "P"], "range": ["#e2e2e2", "#808080"]}, "legend": null},
  "stroke": {"field": "t", "type": "nominal", "scale": {"domain": ["L", "P"], "range": ["#8a8a8a", "#3a3a3a"]}, "legend": null}}},
{"data": {"name": "dens"}, "transform": [{"filter": "datum.r == 12"}], "mark": {"type": "area", "strokeWidth": 1},
 "encoding": {"x": {"field": "yr", "type": "quantitative", "scale": {"domain": [683, 1734], "nice": false, "zero": false}, "axis": null},
  "y": {"field": "p", "type": "quantitative", "stack": null, "scale": {"domain": [0, 1], "range": [849.46, 829.46]}, "axis": null},
  "fill": {"field": "t", "type": "nominal", "scale": {"domain": ["L", "P"], "range": ["#e2e2e2", "#808080"]}, "legend": null},
  "stroke": {"field": "t", "type": "nominal", "scale": {"domain": ["L", "P"], "range": ["#8a8a8a", "#3a3a3a"]}, "legend": null}}},
{"data": {"name": "dens"}, "transform": [{"filter": "datum.r == 13"}], "mark": {"type": "area", "strokeWidth": 1},
 "encoding": {"x": {"field": "yr", "type": "quantitative", "scale": {"domain": [683, 1734], "nice": false, "zero": false}, "axis": null},
  "y": {"field": "p", "type": "quantitative", "stack": null, "scale": {"domain": [0, 1], "range": [915.04, 895.04]}, "axis": null},
  "fill": {"field": "t", "type": "nominal", "scale": {"domain": ["L", "P"], "range": ["#e2e2e2", "#808080"]}, "legend": null},
  "stroke": {"field": "t", "type": "nominal", "scale": {"domain": ["L", "P"], "range": ["#8a8a8a", "#3a3a3a"]}, "legend": null}}},
{"data": {"name": "dens"}, "transform": [{"filter": "datum.r == 14"}], "mark": {"type": "area", "strokeWidth": 1},
 "encoding": {"x": {"field": "yr", "type": "quantitative", "scale": {"domain": [683, 1734], "nice": false, "zero": false}, "axis": null},
  "y": {"field": "p", "type": "quantitative", "stack": null, "scale": {"domain": [0, 1], "range": [980.62, 960.62]}, "axis": null},
  "fill": {"field": "t", "type": "nominal", "scale": {"domain": ["L", "P"], "range": ["#e2e2e2", "#808080"]}, "legend": null},
  "stroke": {"field": "t", "type": "nominal", "scale": {"domain": ["L", "P"], "range": ["#8a8a8a", "#3a3a3a"]}, "legend": null}}},
{"data": {"name": "dens"}, "transform": [{"filter": "datum.r == 16"}], "mark": {"type": "area", "strokeWidth": 1},
 "encoding": {"x": {"field": "yr", "type": "quantitative", "scale": {"domain": [683, 1734], "nice": false, "zero": false}, "axis": null},
  "y": {"field": "p", "type": "quantitative", "stack": null, "scale": {"domain": [0, 1], "range": [1111.78, 1091.78]}, "axis": null},
  "fill": {"field": "t", "type": "nominal", "scale": {"domain": ["L", "P"], "range": ["#e2e2e2", "#808080"]}, "legend": null},
  "stroke": {"field": "t", "type": "nominal", "scale": {"domain": ["L", "P"], "range": ["#8a8a8a", "#3a3a3a"]}, "legend": null}}},
{"data": {"name": "dens"}, "transform": [{"filter": "datum.r == 17"}], "mark": {"type": "area", "strokeWidth": 1},
 "encoding": {"x": {"field": "yr", "type": "quantitative", "scale": {"domain": [683, 1734], "nice": false, "zero": false}, "axis": null},
  "y": {"field": "p", "type": "quantitative", "stack": null, "scale": {"domain": [0, 1], "range": [1177.36, 1157.36]}, "axis": null},
  "fill": {"field": "t", "type": "nominal", "scale": {"domain": ["L", "P"], "range": ["#e2e2e2", "#808080"]}, "legend": null},
  "stroke": {"field": "t", "type": "nominal", "scale": {"domain": ["L", "P"], "range": ["#8a8a8a", "#3a3a3a"]}, "legend": null}}},
{"data": {"name": "dens"}, "transform": [{"filter": "datum.r == 18"}], "mark": {"type": "area", "strokeWidth": 1},
 "encoding": {"x": {"field": "yr", "type": "quantitative", "scale": {"domain": [683, 1734], "nice": false, "zero": false}, "axis": null},
  "y": {"field": "p", "type": "quantitative", "stack": null, "scale": {"domain": [0, 1], "range": [1242.94, 1222.94]}, "axis": null},
  "fill": {"field": "t", "type": "nominal", "scale": {"domain": ["L", "P"], "range": ["#e2e2e2", "#808080"]}, "legend": null},
  "stroke": {"field": "t", "type": "nominal", "scale": {"domain": ["L", "P"], "range": ["#8a8a8a", "#3a3a3a"]}, "legend": null}}},
{"data": {"name": "dens"}, "transform": [{"filter": "datum.r == 19"}], "mark": {"type": "area", "strokeWidth": 1},
 "encoding": {"x": {"field": "yr", "type": "quantitative", "scale": {"domain": [683, 1734], "nice": false, "zero": false}, "axis": null},
  "y": {"field": "p", "type": "quantitative", "stack": null, "scale": {"domain": [0, 1], "range": [1308.52, 1288.52]}, "axis": null},
  "fill": {"field": "t", "type": "nominal", "scale": {"domain": ["L", "P"], "range": ["#e2e2e2", "#808080"]}, "legend": null},
  "stroke": {"field": "t", "type": "nominal", "scale": {"domain": ["L", "P"], "range": ["#8a8a8a", "#3a3a3a"]}, "legend": null}}},
{"data": {"name": "ranges"}, "transform": [{"filter": "datum.lev == 68"}], "mark": {"type": "rule", "stroke": "#222", "strokeWidth": 2},
 "encoding": {"x": {"field": "a", "type": "quantitative", "scale": {"domain": [683, 1734], "nice": false, "zero": false}, "axis": null}, "x2": {"field": "b"},
  "y": {"field": "r", "type": "quantitative", "scale": {"domain": [0, 19], "range": [69.5, 1315.52]}, "axis": null}}},
{"data": {"name": "ranges"}, "transform": [{"filter": "datum.lev == 68"}, {"fold": ["a", "b"]}], "mark": {"type": "tick", "orient": "vertical", "color": "#222", "size": 5, "thickness": 2},
 "encoding": {"x": {"field": "value", "type": "quantitative", "scale": {"domain": [683, 1734], "nice": false, "zero": false}, "axis": null},
  "y": {"field": "r", "type": "quantitative", "scale": {"domain": [0, 19], "range": [67.5, 1313.52]}, "axis": null}}},
{"data": {"name": "ranges"}, "transform": [{"filter": "datum.lev == 95"}], "mark": {"type": "rule", "stroke": "#222", "strokeWidth": 2},
 "encoding": {"x": {"field": "a", "type": "quantitative", "scale": {"domain": [683, 1734], "nice": false, "zero": false},
   "axis": {"orient": "top", "offset": -1375, "values": [700,720,740,760,780,800,820,840,860,880,900,920,940,960,980,1000,1020,1040,1060,1080,1100,1120,1140,1160,1180,1200,1220,1240,1260,1280,1300,1320,1340,1360,1380,1400,1420,1440,1460,1480,1500,1520,1540,1560,1580,1600,1620,1640,1660,1680,1700,1720],
    "labels": false, "domain": false, "ticks": true, "tickSize": 5, "tickColor": "black", "tickWidth": 1, "grid": false, "title": null}},
  "x2": {"field": "b"},
  "y": {"field": "r", "type": "quantitative", "scale": {"domain": [0, 19], "range": [77.5, 1323.52]}, "axis": null}}},
{"data": {"name": "ranges"}, "transform": [{"filter": "datum.lev == 95"}, {"fold": ["a", "b"]}], "mark": {"type": "tick", "orient": "vertical", "color": "#222", "size": 5, "thickness": 2},
 "encoding": {"x": {"field": "value", "type": "quantitative", "scale": {"domain": [683, 1734], "nice": false, "zero": false}, "axis": null},
  "y": {"field": "r", "type": "quantitative", "scale": {"domain": [0, 19], "range": [75.5, 1321.52]}, "axis": null}}},
{"data": {"name": "grid"}, "mark": {"type": "rule", "stroke": "black", "strokeWidth": 1},
 "encoding": {"x": {"field": "v", "type": "quantitative", "scale": {"domain": [683, 1734], "nice": false, "zero": false},
   "axis": {"orient": "bottom", "values": [800, 1000, 1200, 1400, 1600], "format": "d", "title": null, "grid": false, "ticks": false,
    "domain": true, "domainColor": "black", "domainWidth": 3, "labelFont": "'Liberation Sans Narrow', 'Liberation Sans', sans-serif", "labelFontSize": 21, "labelColor": "black", "labelPadding": 0}},
  "y": {"datum": -0.9454, "type": "quantitative", "scale": {"domain": [-0.9454, 20.021], "reverse": true, "nice": false, "zero": false}, "axis": null},
  "y2": {"datum": 20.021}}}
]
}
